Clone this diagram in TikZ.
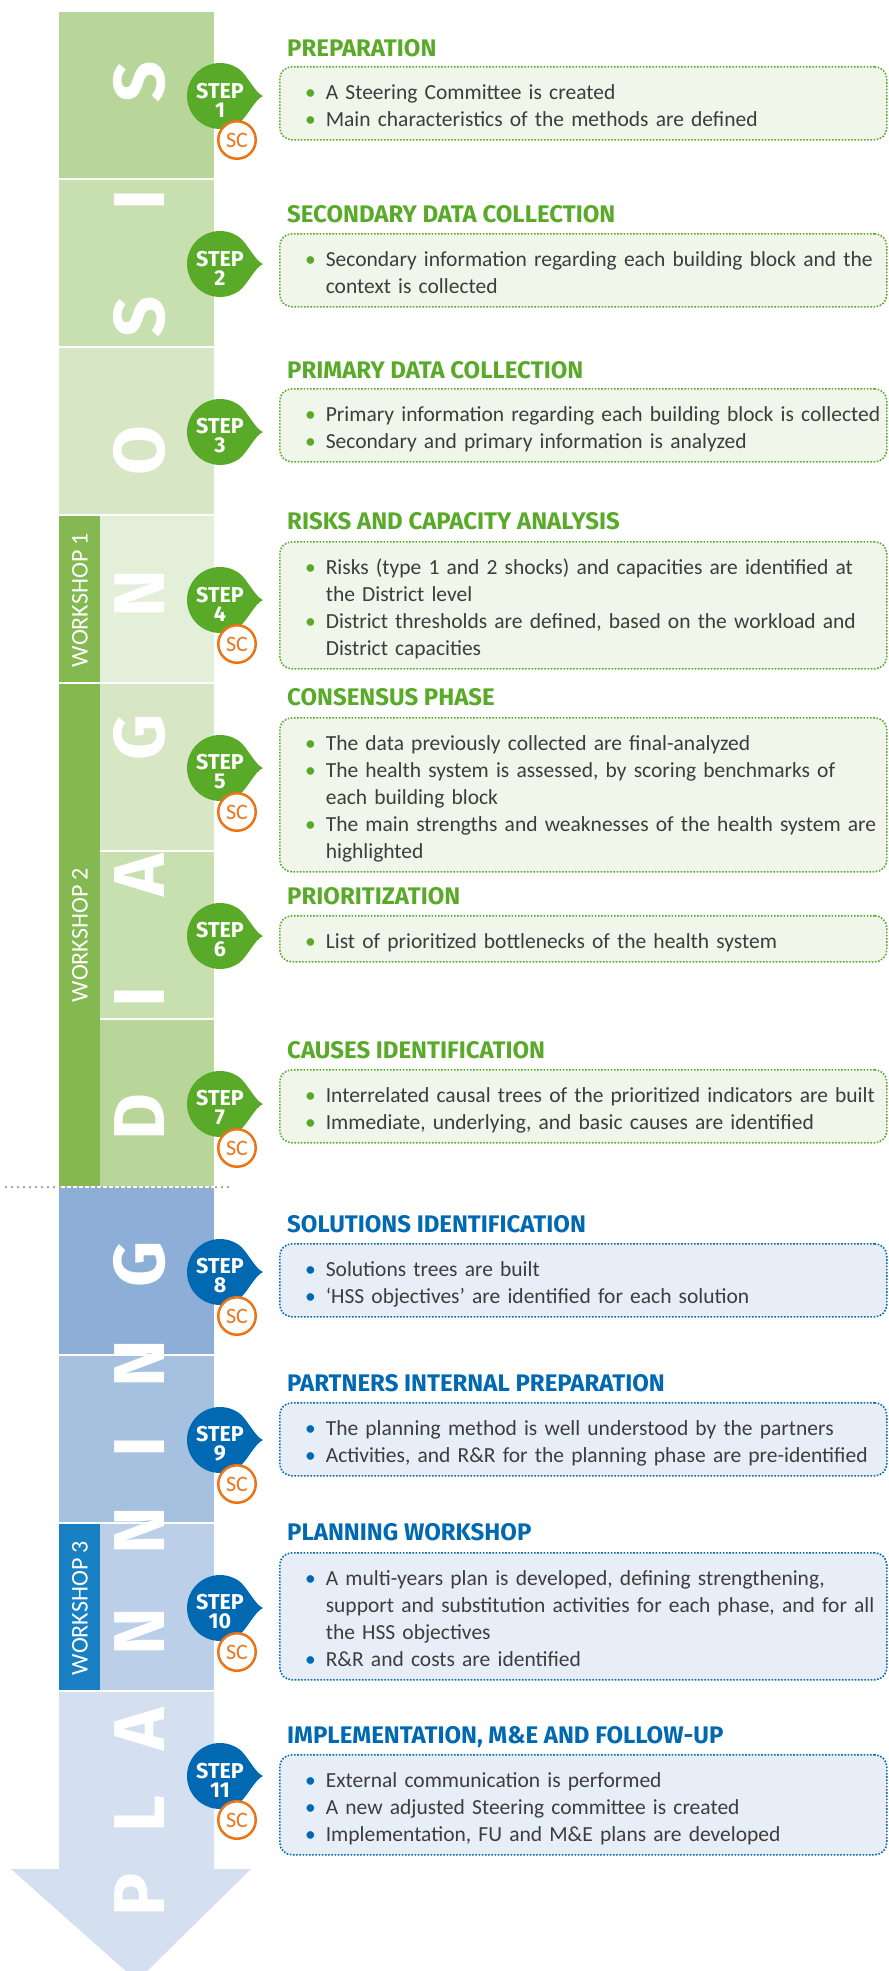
\documentclass[tikz,border=0pt]{standalone}
\usepackage{fontspec}
\setmainfont{Carlito}
\newfontfamily\headfont{Fira Sans}
\usetikzlibrary{calc}

\definecolor{stepgreen}{RGB}{90,170,41}
\definecolor{stepblue}{RGB}{0,105,178}
\definecolor{scorange}{RGB}{236,116,20}
\definecolor{bodygray}{RGB}{61,61,61}
\definecolor{boxgreen}{RGB}{240,246,234}
\definecolor{boxblue}{RGB}{232,238,247}
\definecolor{diag1}{RGB}{184,214,154}
\definecolor{diag2}{RGB}{200,223,176}
\definecolor{diag3}{RGB}{215,231,197}
\definecolor{diag4}{RGB}{227,239,216}
\definecolor{plan1}{RGB}{141,174,215}
\definecolor{plan2}{RGB}{166,192,224}
\definecolor{plan3}{RGB}{187,207,232}
\definecolor{plan4}{RGB}{212,224,240}
\definecolor{wsgreen}{RGB}{132,185,82}
\definecolor{wsblue}{RGB}{26,128,196}
\definecolor{sepgray}{RGB}{150,150,150}

\newcommand{\mystrut}{\rule[-7pt]{0pt}{26pt}}
\newcommand{\itm}[2]{\par\raggedright\leftskip=46pt\rightskip=-3pt plus 2em\noindent\llap{\textcolor{#1}{\textbullet}\hspace{10pt}}\mystrut#2\mystrut\par}
\newcommand{\stepshape}[2]{\fill[#2] (#1) ++(43,0) .. controls +(-8,-3) and +(8.2,5.7) .. ++(-24.07,-27.03) arc (-55:-305:33) .. controls +(8.2,-5.7) and +(-8,3) .. ++(24.07,-27.03) -- cycle;}

\tikzset{
  greenbox/.style={draw=stepgreen, fill=boxgreen, line width=1.6pt, dash pattern=on 1.6pt off 1.6pt, rounded corners=12pt, anchor=north west, text width=607pt, inner xsep=0pt, inner ysep=6pt, text=bodygray, font=\fontsize{21.5}{27}\selectfont},
  bluebox/.style={greenbox, draw=stepblue, fill=boxblue},
  greentitle/.style={anchor=base west, inner sep=0pt, text=stepgreen, font=\headfont\bfseries\fontsize{24}{24}\selectfont},
  bluetitle/.style={greentitle, text=stepblue},
  stepnum/.style={align=center, inner sep=0pt, text=white, font=\headfont\bfseries\fontsize{21.5}{19}\selectfont},
  scmark/.style={circle, draw=scorange, line width=2.5pt, fill=white, minimum size=37.5pt, inner sep=0pt, text=scorange, font=\fontsize{22}{22}\selectfont},
  bigletter/.style={rotate=90, inner sep=0pt, text=white, font=\headfont\bfseries\fontsize{72}{72}\selectfont},
  wslabel/.style={rotate=90, inner sep=0pt, text=white, font=\fontsize{24}{24}\selectfont},
  sepline/.style={sepgray, line width=2.5pt, line cap=round, dash pattern=on 0pt off 6pt}
}

\begin{document}
\begin{tikzpicture}[x=1pt, y=-1pt]
    \useasboundingbox (0,0) rectangle (889,1971);

    \fill[diag1] (59,12) rectangle (214,178);
    \fill[diag2] (59,180) rectangle (214,346);
    \fill[diag3] (59,348) rectangle (214,514);
    \fill[diag4] (59,516) rectangle (214,682);
    \fill[diag3] (59,684) rectangle (214,850);
    \fill[diag2] (59,852) rectangle (214,1018);
    \fill[diag1] (59,1020) rectangle (214,1186);
    \fill[plan1] (59,1188) rectangle (214,1354);
    \fill[plan2] (59,1356) rectangle (214,1522);
    \fill[plan3] (59,1524) rectangle (214,1690);
    \fill[plan4] (59,1692) -- (214,1692) -- (214,1869) -- (251,1869) -- (137,1981) -- (11,1869) -- (59,1869) -- cycle;

    \fill[wsgreen] (59,516) rectangle (100,682);
    \fill[wsgreen] (59,684) rectangle (100,1186);
    \fill[wsblue] (59,1524) rectangle (100,1690);

    \node[bigletter] (dgS1) at (140,82) {S};
    \node[bigletter] (dgI1) at (140,200) {I};
    \node[bigletter] (dgS2) at (140,317) {S};
    \node[bigletter] (dgO) at (140,451) {O};
    \node[bigletter] (dgN) at (140,594) {N};
    \node[bigletter] (dgG) at (140,737) {G};
    \node[bigletter] (dgA) at (140,875) {A};
    \node[bigletter] (dgI2) at (140,997) {I};
    \node[bigletter] (dgD) at (140,1117) {D};
    \node[bigletter] (plG) at (140,1264) {G};
    \node[bigletter] (plN1) at (140,1364) {N};
    \node[bigletter] (plI) at (140,1447) {I};
    \node[bigletter] (plN2) at (140,1531) {N};
    \node[bigletter] (plN3) at (140,1632) {N};
    \node[bigletter] (plA) at (140,1729) {A};
    \node[bigletter] (plL) at (140,1814) {L};
    \node[bigletter] (plP) at (140,1895) {P};

    \node[wslabel] (ws1) at (80,600) {WORKSHOP 1};
    \node[wslabel] (ws2) at (80,935) {WORKSHOP 2};
    \node[wslabel] (ws3) at (80,1608) {WORKSHOP 3};

    \draw[sepline] (6,1187) -- (229,1187);

    \stepshape{220,96}{stepgreen}
    \stepshape{220,264}{stepgreen}
    \stepshape{220,432}{stepgreen}
    \stepshape{220,600}{stepgreen}
    \stepshape{220,768}{stepgreen}
    \stepshape{220,936}{stepgreen}
    \stepshape{220,1104}{stepgreen}
    \stepshape{220,1272}{stepblue}
    \stepshape{220,1440}{stepblue}
    \stepshape{220,1608}{stepblue}
    \stepshape{220,1776}{stepblue}

    \node[stepnum] (s1) at (220,100) {STEP\\1};
    \node[stepnum] (s2) at (220,268) {STEP\\2};
    \node[stepnum] (s3) at (220,436) {STEP\\3};
    \node[stepnum] (s4) at (220,604) {STEP\\4};
    \node[stepnum] (s5) at (220,772) {STEP\\5};
    \node[stepnum] (s6) at (220,940) {STEP\\6};
    \node[stepnum] (s7) at (220,1108) {STEP\\7};
    \node[stepnum] (s8) at (220,1276) {STEP\\8};
    \node[stepnum] (s9) at (220,1444) {STEP\\9};
    \node[stepnum] (s10) at (220,1612) {STEP\\10};
    \node[stepnum] (s11) at (220,1780) {STEP\\11};

    \node[scmark] (sc1) at (237,140) {SC};
    \node[scmark] (sc4) at (237,644) {SC};
    \node[scmark] (sc5) at (237,812) {SC};
    \node[scmark] (sc7) at (237,1148) {SC};
    \node[scmark] (sc8) at (237,1316) {SC};
    \node[scmark] (sc9) at (237,1484) {SC};
    \node[scmark] (sc10) at (237,1652) {SC};
    \node[scmark] (sc11) at (237,1820) {SC};

    \node[greentitle] (t1) at (287,56) {PREPARATION};
    \node[greenbox] (b1) at (279,66) {\itm{stepgreen}{A Steering Committee is created}\itm{stepgreen}{Main characteristics of the methods are defined}};
    \node[greentitle] (t2) at (287,222) {SECONDARY DATA COLLECTION};
    \node[greenbox] (b2) at (279,233) {\itm{stepgreen}{Secondary information regarding each building block and the\\context is collected}};
    \node[greentitle] (t3) at (287,378) {PRIMARY DATA COLLECTION};
    \node[greenbox] (b3) at (279,388) {\itm{stepgreen}{Primary information regarding each building block is collected}\itm{stepgreen}{Secondary and primary information is analyzed}};
    \node[greentitle] (t4) at (287,529) {RISKS AND CAPACITY ANALYSIS};
    \node[greenbox] (b4) at (279,541) {\itm{stepgreen}{Risks (type 1 and 2 shocks) and capacities are identified at\\the District level}\itm{stepgreen}{District thresholds are defined, based on the workload and\\District capacities}};
    \node[greentitle] (t5) at (287,705) {CONSENSUS PHASE};
    \node[greenbox] (b5) at (279,717) {\itm{stepgreen}{The data previously collected are final-analyzed}\itm{stepgreen}{The health system is assessed, by scoring benchmarks of\\each building block}\itm{stepgreen}{The main strengths and weaknesses of the health system are\\highlighted}};
    \node[greentitle] (t6) at (287,904) {PRIORITIZATION};
    \node[greenbox] (b6) at (279,915) {\itm{stepgreen}{List of prioritized bottlenecks of the health system}};
    \node[greentitle] (t7) at (287,1058) {CAUSES IDENTIFICATION};
    \node[greenbox] (b7) at (279,1069) {\itm{stepgreen}{Interrelated causal trees of the prioritized indicators are built}\itm{stepgreen}{Immediate, underlying, and basic causes are identified}};
    \node[bluetitle] (t8) at (287,1232) {SOLUTIONS IDENTIFICATION};
    \node[bluebox] (b8) at (279,1243) {\itm{stepblue}{Solutions trees are built}\itm{stepblue}{‘HSS objectives’ are identified for each solution}};
    \node[bluetitle] (t9) at (287,1391) {PARTNERS INTERNAL PREPARATION};
    \node[bluebox] (b9) at (279,1402) {\itm{stepblue}{The planning method is well understood by the partners}\itm{stepblue}{Activities, and R\&R for the planning phase are pre-identified}};
    \node[bluetitle] (t10) at (287,1540) {PLANNING WORKSHOP};
    \node[bluebox] (b10) at (279,1552) {\itm{stepblue}{A multi-years plan is developed, defining strengthening,\\support and substitution activities for each phase, and for all\\the HSS objectives}\itm{stepblue}{R\&R and costs are identified}};
    \node[bluetitle] (t11) at (287,1743) {IMPLEMENTATION, M\&E AND FOLLOW-UP};
    \node[bluebox] (b11) at (279,1754) {\itm{stepblue}{External communication is performed}\itm{stepblue}{A new adjusted Steering committee is created}\itm{stepblue}{Implementation, FU and M\&E plans are developed}};
  \end{tikzpicture}
\end{document}
